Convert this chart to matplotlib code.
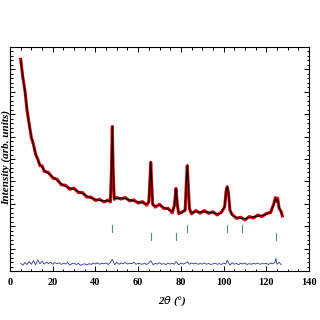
import matplotlib
matplotlib.use('Agg')
import matplotlib.pyplot as plt
from matplotlib.ticker import MultipleLocator

# calculated profile (2theta, intensity in arbitrary units)
two_theta = [5, 6, 7, 8, 9, 10, 11, 12, 13, 14, 15, 16, 18, 20, 22, 24, 26, 28, 30,
             32, 34, 36, 38, 40, 42, 44, 46, 47, 47.5, 47.9, 48.3, 48.8, 50, 52, 54,
             56, 58, 60, 62, 64, 65, 65.5, 65.9, 66.3, 66.8, 68, 70, 72, 74, 76, 77,
             77.7, 78.4, 79, 80.5, 82, 82.5, 83, 83.5, 84, 85, 87, 89, 91, 93, 95, 97,
             99, 100.5, 101.2, 101.7, 102.3, 103, 104, 106, 108, 110, 112, 114, 116,
             118, 120, 122, 123.5, 124.3, 124.8, 125.3, 126, 127, 127.5]
calc = [94, 87, 80, 72, 65, 60, 56, 52.5, 49.5, 47.5, 46.5, 45, 43.5, 42, 40.5, 39,
        37.8, 37, 36.5, 35.5, 34.5, 33.5, 32.5, 32, 31.5, 31.3, 31.2, 31.3, 45, 64.7,
        45, 32.5, 32.3, 32.6, 32.3, 31.8, 31.2, 30.8, 30.5, 29.9, 30.5, 40, 48.8, 40,
        29.5, 29.0, 29.3, 28.4, 27.5, 26.5, 29, 37, 29, 26, 25.9, 27.5, 38, 47.3, 38,
        27.5, 26, 26.5, 26.3, 26.5, 26.2, 26, 25.5, 25.8, 29, 35.5, 37.9, 34.5, 27.5,
        24.8, 24, 23.5, 23.3, 23.8, 24.2, 24.5, 24.8, 25.2, 26.5, 29.5, 32.4, 31.5,
        32, 28.5, 26, 25]
# observed points (slightly noisy around the fit)
obs = [94.5, 86.5, 80.5, 71.5, 65.5, 59.5, 56.5, 52, 50, 47, 47, 44.5, 44, 41.5, 41,
       38.5, 38.3, 36.5, 37, 35, 35, 33, 33, 31.5, 32, 30.8, 31.7, 30.8, 45, 64.5,
       45, 32, 32.8, 32.1, 32.8, 31.3, 31.7, 30.3, 31, 29.4, 30.9, 40, 48.5, 40,
       29.9, 28.5, 29.8, 27.9, 28, 26, 29.4, 36.8, 29.3, 25.6, 26.4, 27, 38, 47,
       38, 27.9, 25.5, 27, 25.8, 27, 25.7, 26.5, 25, 26.3, 28.6, 35.8, 37.6, 34.8,
       27, 25.3, 23.5, 24, 22.8, 24.3, 23.7, 25, 24.3, 25.7, 26, 30, 32.8, 31,
       32.5, 28, 26.5, 24.6]

# Bragg reflection positions and row (upper / lower)
bragg_pos = [47.9, 65.9, 77.7, 83.0, 101.7, 108.5, 124.5]
bragg_upper = [True, False, False, True, True, True, False]

# difference curve
diff_x = [5, 6, 7, 8, 9, 10, 11, 12, 13, 14, 15, 16, 17, 18, 19, 20, 21, 22, 23, 24,
          25, 26, 27, 28, 29, 30, 31, 32, 33, 34, 35, 36, 37, 38, 39, 40, 41, 42, 43,
          44, 45, 46, 47, 47.9, 49, 50, 51, 52, 53, 54, 55, 56, 57, 58, 59, 60, 61,
          62, 63, 64, 65, 65.9, 67, 68, 69, 70, 71, 72, 73, 74, 75, 76, 77, 77.7, 79,
          80, 81, 82, 83, 84, 85, 86, 87, 88, 89, 90, 91, 92, 93, 94, 95, 96, 97, 98,
          99, 100, 101, 101.7, 103, 104, 105, 106, 107, 108, 109, 110, 111, 112, 113,
          114, 115, 116, 117, 118, 119, 120, 121, 122, 123, 124, 124.5, 125, 126, 127]
diff = [3.4, 2.6, 3.8, 2.9, 4.2, 3.0, 4.6, 2.8, 4.9, 3.2, 4.4, 3.0, 4.0, 3.3, 3.9,
        3.0, 3.8, 3.2, 3.7, 2.9, 3.5, 3.1, 3.8, 2.6, 3.3, 3.5, 2.9, 3.4, 2.5, 3.0,
        3.2, 2.7, 3.3, 2.9, 3.6, 3.1, 3.7, 3.0, 3.5, 3.2, 3.6, 2.9, 3.8, 5.2, 2.8, 3.9,
        3.0, 3.6, 3.2, 3.8, 3.1, 3.5, 3.3, 3.9, 3.0, 3.4, 3.2, 3.0, 3.5, 2.9, 3.6, 4.6,
        2.8, 3.4, 3.1, 3.7, 3.0, 3.3, 2.9, 3.5, 3.1, 3.4, 3.0, 4.2, 2.7, 3.6, 3.1,
        3.4, 4.1, 3.0, 3.6, 3.2, 3.5, 3.0, 3.3, 3.1, 3.6, 3.0, 3.4, 2.9, 3.2, 3.5,
        3.0, 3.3, 2.9, 3.6, 3.1, 4.8, 2.6, 3.7, 3.0, 3.4, 2.8, 3.5, 3.1, 3.6, 2.9,
        3.3, 3.0, 3.4, 3.1, 3.5, 3.0, 3.3, 3.2, 3.4, 2.9, 3.6, 3.2, 3.8, 5.6, 3.0,
        3.9, 2.8]

plt.rcParams['font.family'] = ['Liberation Serif', 'DejaVu Serif']

fig = plt.figure(figsize=(3.2, 3.2), dpi=100)
ax = fig.add_axes([10 / 320, 49 / 320, 299 / 320, 224 / 320])

ax.plot(two_theta, obs, color='#d40000', lw=2.2, solid_joinstyle='round', zorder=2)
ax.plot(two_theta, calc, color='black', lw=0.8, zorder=3)
ax.plot(diff_x, diff, color='#2a35a0', lw=0.6, zorder=2)

for pos, upper in zip(bragg_pos, bragg_upper):
    if upper:
        ax.plot([pos, pos], [17.4, 20.5], color='#4d8f86', lw=0.8)
    else:
        ax.plot([pos, pos], [13.8, 17.0], color='#4d8f86', lw=0.8)

ax.set_xlim(0, 140)
ax.set_ylim(0, 100)
ax.xaxis.set_major_locator(MultipleLocator(20))
ax.xaxis.set_minor_locator(MultipleLocator(5))
ax.yaxis.set_major_locator(MultipleLocator(10))
ax.yaxis.set_minor_locator(MultipleLocator(2))
ax.tick_params(which='both', direction='in', top=True, right=True, width=0.7)
ax.tick_params(which='major', length=3.5)
ax.tick_params(which='minor', length=1.8)
ax.tick_params(axis='y', labelleft=False)
ax.tick_params(axis='x', labelsize=7.5, pad=5)
for lab in ax.get_xticklabels():
    lab.set_fontweight('bold')
for sp in ax.spines.values():
    sp.set_linewidth(0.8)

ax.set_xlabel(r'2$\mathit{\theta}$ (°)', fontsize=8, style='italic', fontweight='bold')
ax.xaxis.set_label_coords((172 - 10) / 299, -0.105)
fig.text(6 / 320, 1 - 157 / 320, 'Intensity (arb. units)', rotation=90,
         fontsize=8, style='italic', fontweight='bold', ha='center', va='center')

fig.savefig('out.png', dpi=100)
